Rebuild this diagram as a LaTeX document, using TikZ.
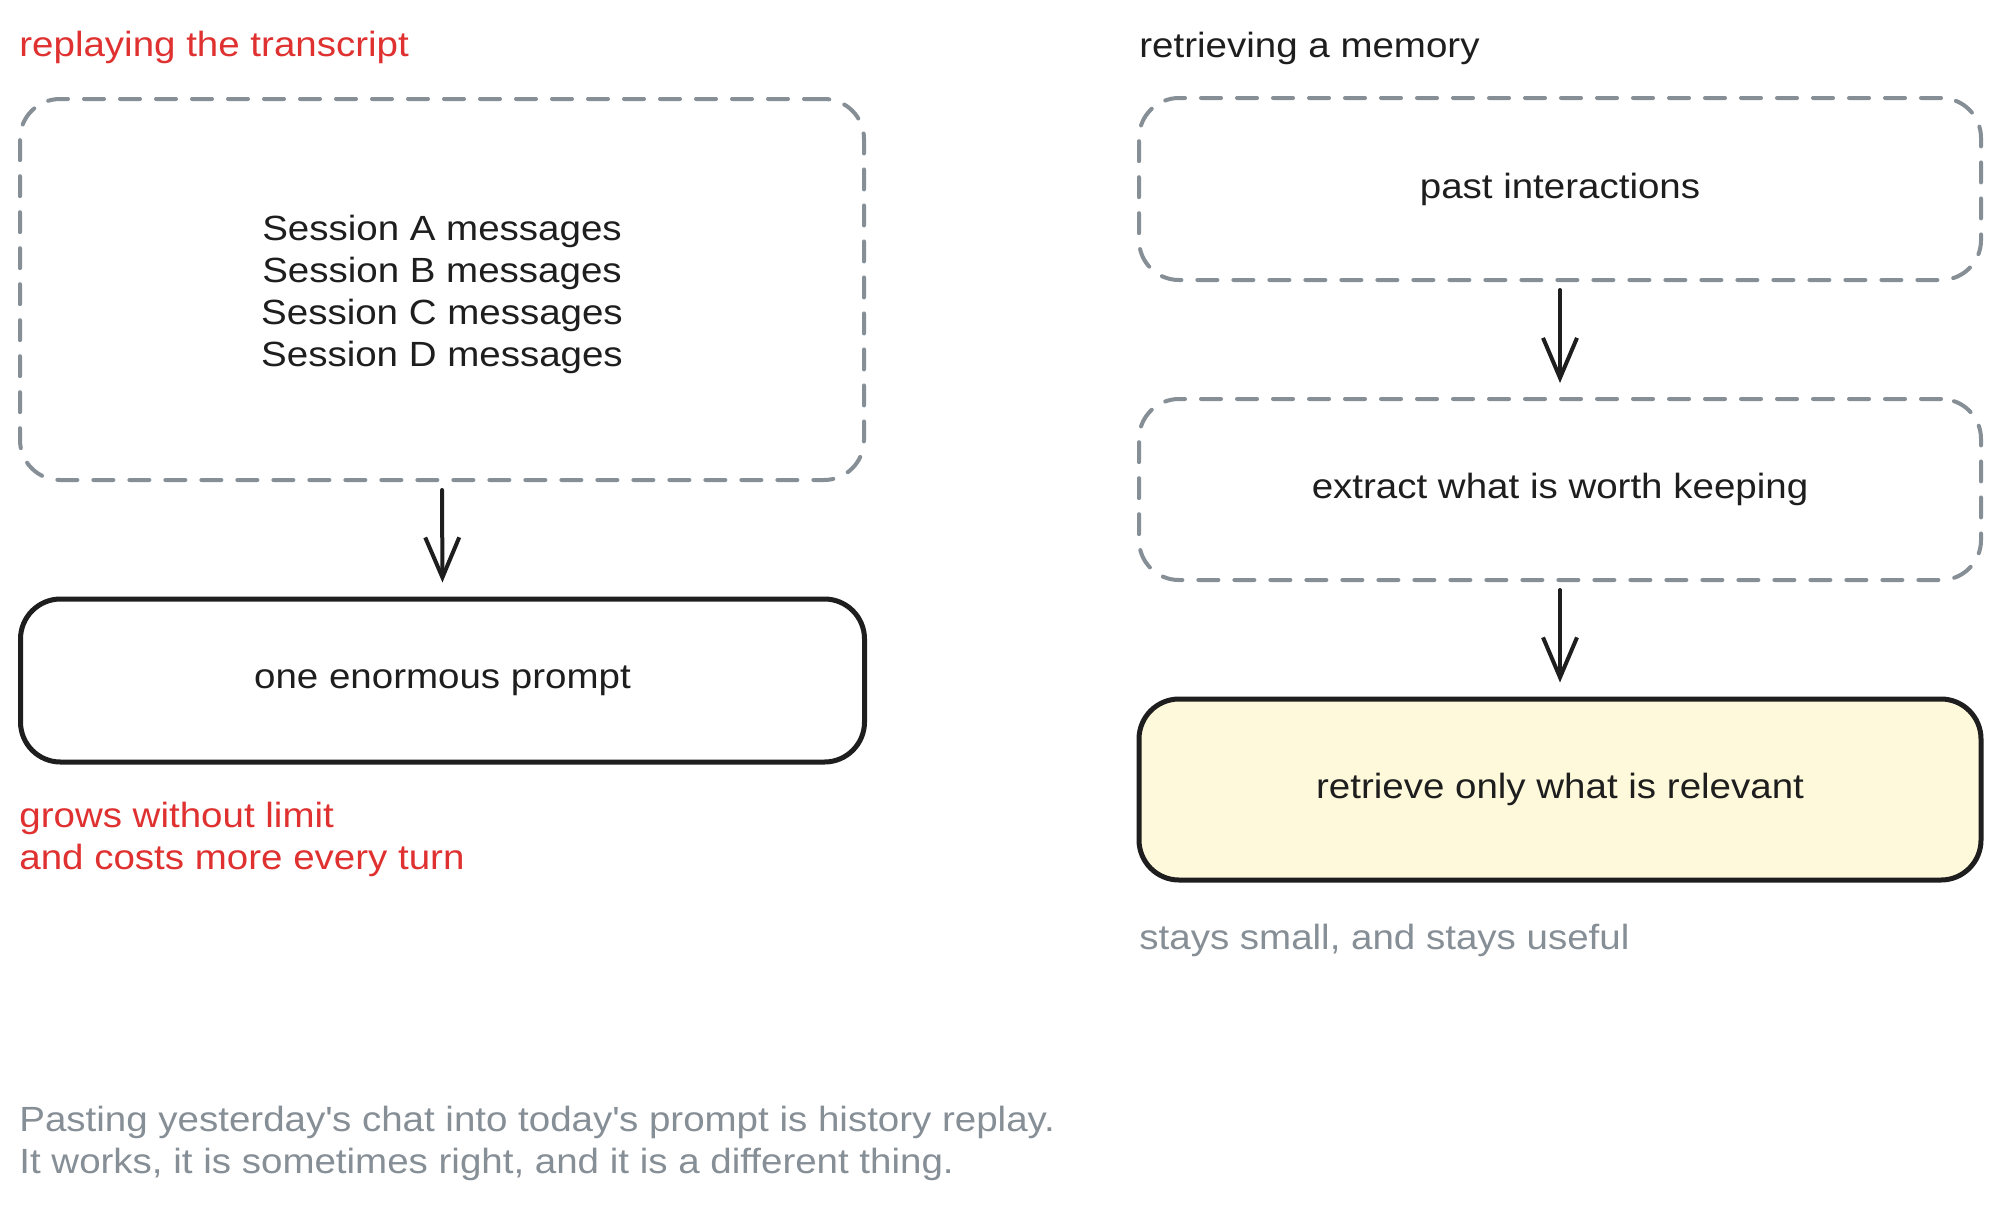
\documentclass[tikz,border=0pt]{standalone}
\usepackage{fontspec}
\setmainfont{Liberation Sans}[FakeStretch=1.1]
\usetikzlibrary{arrows.meta}
\definecolor{inkred}{HTML}{E03131}
\definecolor{inkgray}{HTML}{868E96}
\definecolor{inkdark}{HTML}{1E1E1E}
\definecolor{paleyellow}{HTML}{FFF9DB}
\tikzset{
  x=0.5pt, y=-0.5pt,
  every node/.style={font=\fontsize{17.5pt}{21pt}\selectfont, text=inkdark, inner sep=0pt},
  dashbox/.style={draw=inkgray, line width=2pt, dash pattern=on 10pt off 8pt, line cap=round,
    rounded corners=20pt, minimum width=421pt},
  solidbox/.style={draw=inkdark, line width=2.5pt, rounded corners=20pt, minimum width=422pt},
  flow/.style={draw=inkdark, line width=2pt, line cap=round,
    -{Straight Barb[length=20pt, width=17pt, line width=2pt]},
    shorten <=4pt, shorten >=7pt},
  redtext/.style={text=inkred, align=left},
  graytext/.style={text=inkgray, align=left}
}
\begin{document}
\begin{tikzpicture}
\useasboundingbox[fill=white] (0,0) rectangle (2000,1205);

% left column
\node[redtext, anchor=base west] (ltitle) at (19,56) {replaying the transcript};
\node[dashbox, minimum width=422pt, minimum height=190.5pt] (sessions) at (442,289.5) {};
\node[align=center] (sesstext) at (442,294) {Session A messages\\Session B messages\\Session C messages\\Session D messages};
\node[solidbox, minimum height=81.5pt] (prompt) at (442.5,680.5) {one enormous prompt};
\node[redtext, anchor=west] (grows) at (19,839) {grows without limit\\and costs more every turn};
\draw[flow] (sessions.south) -- (prompt.north);

% right column
\node[anchor=base west] (rtitle) at (1139,57) {retrieving a memory};
\node[dashbox, minimum height=91pt] (past) at (1560,189) {past interactions};
\node[dashbox, minimum height=90.5pt] (extract) at (1560,489.5) {extract what is worth keeping};
\node[solidbox, fill=paleyellow, minimum width=421pt, minimum height=90.5pt] (retrieve) at (1560,789.5) {retrieve only what is relevant};
\node[graytext, anchor=base west] (stays) at (1139,949) {stays small, and stays useful};
\draw[flow] (past.south) -- (extract.north);
\draw[flow] (extract.south) -- (retrieve.north);

% footer
\node[graytext, anchor=west] (footer) at (19,1143) {Pasting yesterday\textquotesingle s chat into today\textquotesingle s prompt is history replay.\\It works, it is sometimes right, and it is a different thing.};
\end{tikzpicture}
\end{document}
